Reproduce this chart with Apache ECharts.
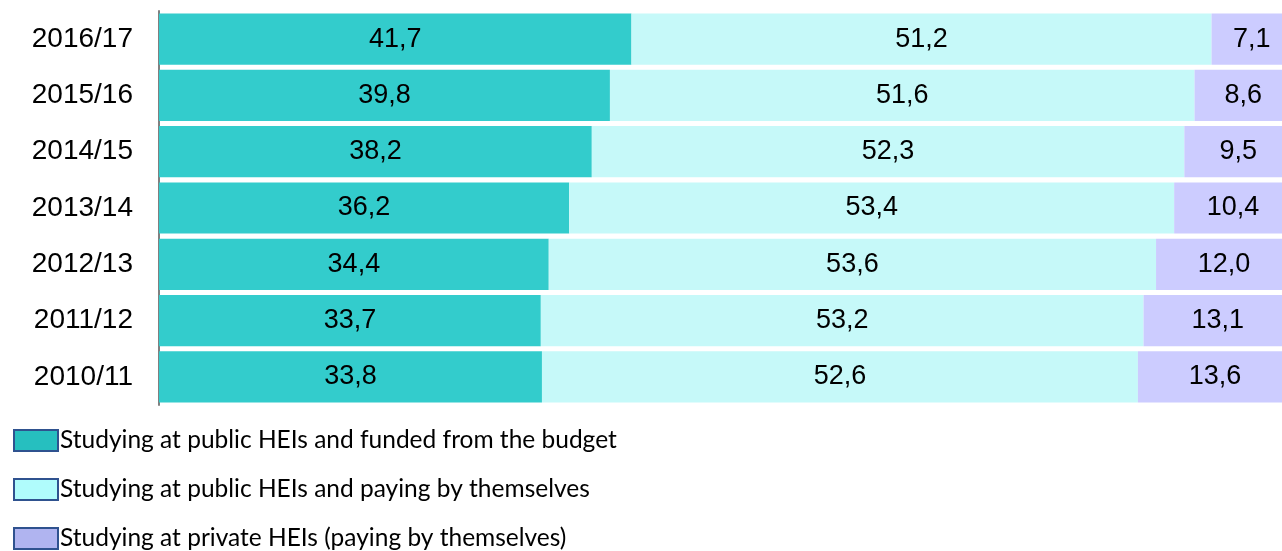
<!DOCTYPE html>
<html>
<head>
<meta charset="utf-8">
<script src="https://cdn.jsdelivr.net/npm/echarts@6/dist/echarts.min.js"></script>
<style>
  html, body { margin: 0; padding: 0; background: #fff; }
  #chart { width: 1282px; height: 551px; }
</style>
</head>
<body>
<div id="chart"></div>
<script>
// academic years, bottom to top
const years = ["2010/11", "2011/12", "2012/13", "2013/14", "2014/15", "2015/16", "2016/17"];
const budgetFunded = [33.8, 33.7, 34.4, 36.2, 38.2, 39.8, 41.7];
const publicPaying = [52.6, 53.2, 53.6, 53.4, 52.3, 51.6, 51.2];
const privatePaying = [13.6, 13.1, 12.0, 10.4, 9.5, 8.6, 7.1];
const seriesNames = [
  "Studying at public HEIs and funded from the budget",
  "Studying at public HEIs and paying by themselves",
  "Studying at private HEIs (paying by themselves)",
];

const fmt = (p) => p.value.toFixed(1).replace(".", ",");
const labelStyle = {
  show: true,
  position: "inside",
  color: "#000",
  fontFamily: "Liberation Sans",
  fontSize: 27,
  formatter: fmt,
};

function bar(name, data, color) {
  return {
    name,
    type: "bar",
    stack: "total",
    barCategoryGap: "9%",
    data,
    itemStyle: { color },
    label: labelStyle,
  };
}

const chart = echarts.init(document.getElementById("chart"), undefined, { renderer: "canvas" });
chart.setOption({
  animation: false,
  // the 100% end of the scale sits just past the right edge of the picture
  grid: { left: 159, width: 1133, top: 11, height: 394, outerBoundsMode: "none" },
  xAxis: {
    type: "value",
    min: 0,
    max: 100,
    show: false,
  },
  yAxis: {
    type: "category",
    data: years,
    axisLine: { lineStyle: { color: "#808080", width: 2 } },
    axisTick: { show: false },
    axisLabel: {
      color: "#000",
      fontFamily: "Liberation Sans",
      fontSize: 28,
      margin: 26,
    },
  },
  legend: {
    orient: "vertical",
    left: 8,
    top: 423,
    height: 128,
    itemWidth: 44,
    itemHeight: 21,
    itemGap: 24,
    icon: "rect",
    textStyle: { fontFamily: "Lato", fontSize: 24.5, color: "#000", padding: [0, 0, 0, -3] },
    data: [
      { name: seriesNames[0], itemStyle: { color: "#26BFBF", borderColor: "#2F528F", borderWidth: 2 } },
      { name: seriesNames[1], itemStyle: { color: "#B0FCFC", borderColor: "#2F528F", borderWidth: 2 } },
      { name: seriesNames[2], itemStyle: { color: "#B0B4F0", borderColor: "#2F528F", borderWidth: 2 } },
    ],
  },
  series: [
    bar(seriesNames[0], budgetFunded, "#33CCCC"),
    bar(seriesNames[1], publicPaying, "#C6F9F9"),
    bar(seriesNames[2], privatePaying, "#CCCCFF"),
  ],
});
</script>
</body>
</html>
